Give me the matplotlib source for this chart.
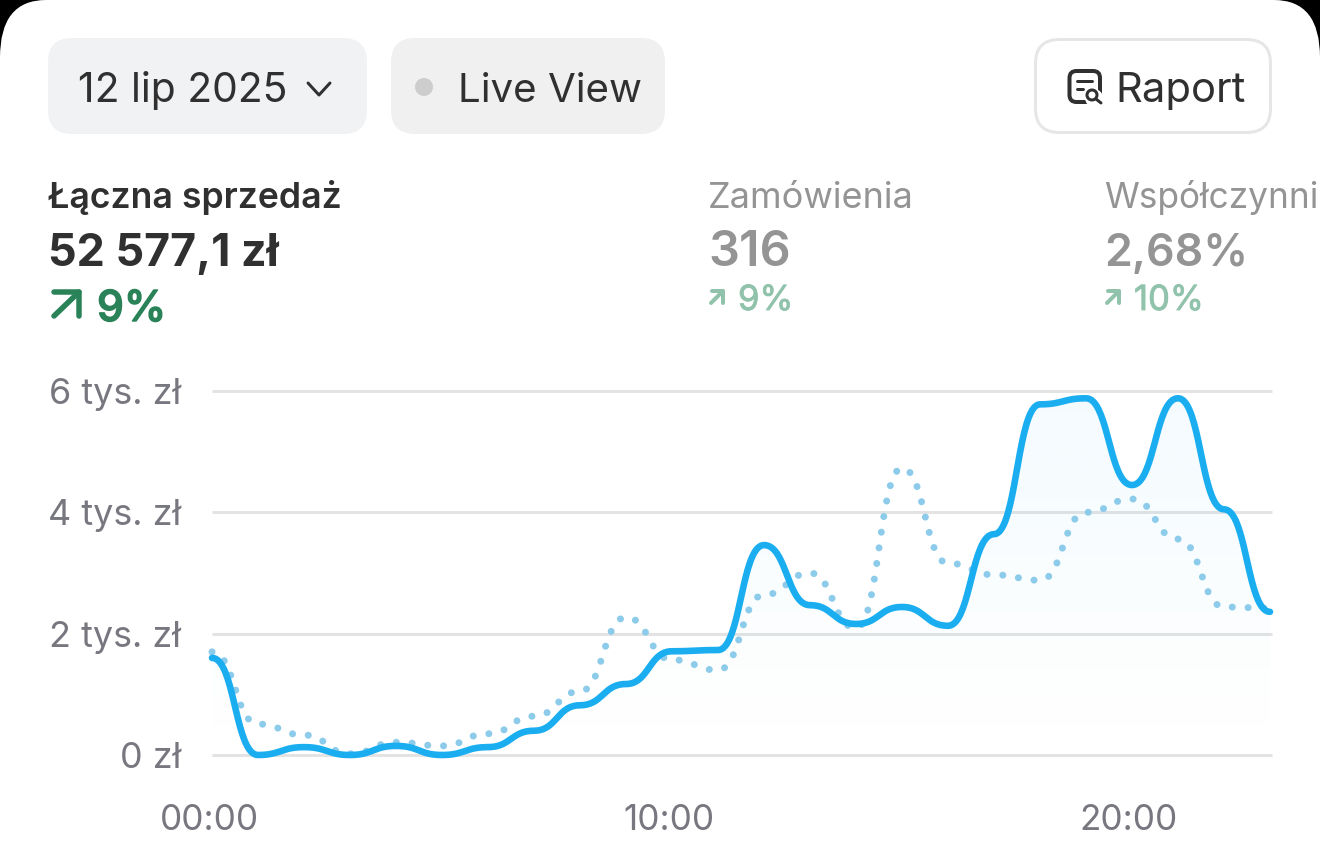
import numpy as np
import matplotlib
matplotlib.use("Agg")
import matplotlib.pyplot as plt
import matplotlib.patheffects as pe
from matplotlib.patches import FancyBboxPatch, Circle, PathPatch
from matplotlib.path import Path
from matplotlib.transforms import ScaledTranslation

plt.rcParams['font.family'] = ['Inter', 'DejaVu Sans']

hours = list(range(24))
current = [1.60, 0.00, 0.13, 0.00, 0.15, 0.00, 0.13, 0.40, 0.82, 1.17, 1.71, 1.73,
           3.46, 2.47, 2.16, 2.44, 2.13, 3.64, 5.78, 5.88, 4.45, 5.88, 4.05, 2.36]
previous = [1.70, 0.51, 0.33, 0.02, 0.21, 0.15, 0.35, 0.64, 1.05, 2.27, 1.57, 1.40,
            2.64, 3.00, 2.09, 4.73, 3.16, 2.97, 2.88, 4.00, 4.22, 3.56, 2.44, 2.42]
y_ticks = [0, 2, 4, 6]
y_labels = ['0 zł', '2 tys. zł', '4 tys. zł', '6 tys. zł']
x_ticks = [0, 10, 20]
x_labels = ['00:00', '10:00', '20:00']

W, H = 1320, 861
DARK, GREY, GREEN, PALE = '#303030', '#949494', '#2a8358', '#91c3ac'
px = 72 / 100


def bump(xs, ys, n=40):
    """Horizontal-tangent cubic between neighbouring data points."""
    xs, ys = np.asarray(xs, float), np.asarray(ys, float)
    t = np.linspace(0, 1, n)[:, None]
    ox, oy = [], []
    for x0, x1, y0, y1 in zip(xs[:-1], xs[1:], ys[:-1], ys[1:]):
        m = (x0 + x1) / 2
        ox.append(((1-t)**3*x0 + 3*(1-t)**2*t*m + 3*(1-t)*t**2*m + t**3*x1).ravel())
        oy.append(((1-t)**3*y0 + 3*(1-t)**2*t*y0 + 3*(1-t)*t**2*y1 + t**3*y1).ravel())
    return np.concatenate(ox), np.concatenate(oy)


fig = plt.figure(figsize=(W / 100, H / 100), dpi=100, facecolor='black')

# --- page furniture, in pixel coordinates
ui = fig.add_axes([0, 0, 1, 1], zorder=1)
ui.set_xlim(0, W)
ui.set_ylim(H, 0)
ui.axis('off')
ui.patch.set_alpha(0)


def rbox(x0, y0, x1, y1, r, fc, ec='none', lw=0, aspect=1.0, z=2):
    ui.add_patch(FancyBboxPatch((x0 + r, y0 + r * aspect), x1 - x0 - 2 * r, y1 - y0 - 2 * r * aspect,
                                boxstyle=f'round,pad={r},rounding_size={r}', mutation_aspect=aspect,
                                fc=fc, ec=ec, lw=lw, zorder=z))


rbox(0, 0, W, H + 200, 46, 'white', aspect=1.25, z=1)
rbox(48, 38, 367, 134, 24, '#f1f2f4')
rbox(391, 38, 665, 134, 24, '#f0f0f1')
rbox(1035.5, 39.5, 1270.5, 132.5, 24, 'white', ec='#e6e6e6', lw=3 * px)


def txt(x, y, s, size, color, weight='normal', thick=0):
    t = ui.text(x, y, s, fontsize=size, color=color, fontweight=weight, ha='left', va='baseline', zorder=3)
    if thick:
        t.set_path_effects([pe.withStroke(linewidth=thick, foreground=color)])


def stroke(xs, ys, color, w):
    ui.plot(xs, ys, color=color, lw=w * px, solid_capstyle='round', solid_joinstyle='round', zorder=3)


txt(78, 102, '12 lip 2025', 29.4, DARK)
stroke([308, 319, 330], [83, 95, 83], DARK, 3)
ui.add_patch(Circle((424, 87), 9, fc='#cdcdcd', ec='none', zorder=3))
txt(458, 102, 'Live View', 29.0, DARK)
txt(1115, 102, 'Raport', 30, DARK)

# report icon
rbox(1069.5, 71, 1100, 102, 7, 'white', ec=DARK, lw=4 * px, z=3)
ui.add_patch(Circle((1094, 98), 9, fc='white', ec='none', zorder=3))
ui.add_patch(Circle((1092, 95), 5, fc='white', ec=DARK, lw=3 * px, zorder=4))
stroke([1096, 1101], [99, 103], DARK, 3)
stroke([1077, 1092], [81, 81], DARK, 3)
stroke([1077, 1083], [89, 89], DARK, 3)

# headline metrics
txt(48, 208, 'Łączna sprzedaż', 25.6, DARK, 'semibold')
txt(48, 266, '52 577,1 zł', 32.3, DARK, 'bold')
stroke([54, 79], [316, 292], GREEN, 5.5)
stroke([54, 79, 79], [292, 292, 316], GREEN, 5.5)
txt(97, 321, '9%', 30.7, GREEN, 'medium', thick=1.0)

for x0, title, title_size, value, delta in [(709, 'Zamówienia', 26, '316', '9%'),
                                            (1105, 'Współczynni', 25.4, '2,68%', '10%')]:
    txt(x0 - 1, 208, title, title_size, GREY)
    txt(x0 - 1, 266, value, 32.2 if len(value) > 3 else 35, GREY, 'semibold')
    stroke([x0 + 2, x0 + 14], [303, 291], PALE, 4)
    stroke([x0 + 3, x0 + 14, x0 + 14], [291, 291, 303], PALE, 4)
    txt(x0 + 29, 310, delta, 24.9, PALE, thick=0.6)

# --- chart
PER_H = 46.0
left, right, top, bottom = 212, 1272, 391, 755
ax = fig.add_axes([left / W, 1 - bottom / H, (right - left) / W, (bottom - top) / H], zorder=2)
ax.patch.set_alpha(0)
ax.set_xlim(0, (right - left) / PER_H)
ax.set_ylim(0, 6)
for s in ax.spines.values():
    s.set_visible(False)
ax.set_yticks(y_ticks, y_labels)
ax.set_xticks(x_ticks, x_labels)
ax.tick_params(axis='both', length=0, labelcolor='#77777f')
ax.tick_params(axis='y', labelsize=25.9, pad=31 * px)
ax.tick_params(axis='x', labelsize=25.3, pad=49 * px)
shift = ScaledTranslation(-3 / 100, 0, fig.dpi_scale_trans)
for lab in ax.get_xticklabels():
    lab.set_transform(lab.get_transform() + shift)
ax.grid(axis='y', color='#e3e3e3', lw=3 * px, zorder=1)
ax.set_axisbelow(True)
for g in ax.get_ygridlines():
    g.set_clip_on(False)
    g.set_solid_capstyle('butt')

sx, sy = bump(hours, current)
dx, dy = bump(hours, previous)

# soft gradient under the current-day line
grad = np.linspace(0.05, 0.0, 256)[:, None]
rgba = np.zeros((256, 1, 4))
rgba[..., :3] = matplotlib.colors.to_rgb('#1aaef0')
rgba[..., 3] = grad
img = ax.imshow(rgba, extent=[0, hours[-1], 0, 6], origin='upper', aspect='auto', zorder=2, interpolation='bilinear')
ax.set_xlim(0, (right - left) / PER_H)
ax.set_ylim(0, 6)
poly = np.column_stack([np.r_[sx, sx[-1], sx[0]], np.r_[sy, 0, 0]])
img.set_clip_path(PathPatch(Path(poly), transform=ax.transData))

ax.plot(dx, dy, color='#8ccbea', lw=7 * px, dash_capstyle='round', linestyle=(0, (0.01, 2.25)), clip_on=False, zorder=3)
ax.plot(sx, sy, color='#1aaef0', lw=6.6 * px, solid_capstyle='round', solid_joinstyle='round', clip_on=False, zorder=4)

fig.savefig('out.png', dpi=100, facecolor=fig.get_facecolor())
